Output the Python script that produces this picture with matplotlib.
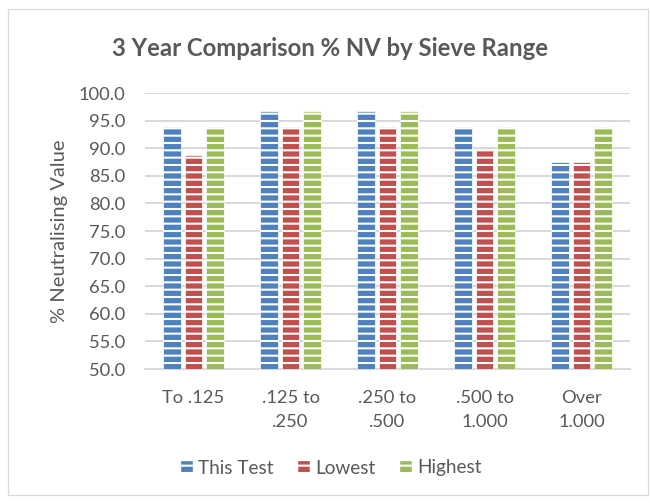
import matplotlib.pyplot as plt
import matplotlib.patches as mpatches
import numpy as np

plt.rcParams['font.family'] = ['Lato', 'DejaVu Sans']
plt.rcParams['hatch.linewidth'] = 1.7

categories = ['To .125', '.125 to\n.250', '.250 to\n.500', '.500 to\n1.000', 'Over\n1.000']
this_test = [93.8, 96.8, 96.8, 93.8, 87.5]
lowest = [88.7, 93.8, 93.8, 89.9, 87.5]
highest = [93.8, 96.8, 96.8, 93.8, 93.8]
series = [('This Test', this_test, '#4F81BD'),
          ('Lowest', lowest, '#C0504D'),
          ('Highest', highest, '#9BBB59')]

dpi = 88
fig = plt.figure(figsize=(650 / dpi, 503 / dpi), dpi=dpi)
ax = fig.add_axes([145 / 650, 1 - 369 / 503, 485 / 650, 276 / 503])

x = np.arange(len(categories))
step = 0.22
width = 0.18
handles = []
for i, (name, vals, col) in enumerate(series):
    ax.bar(x + (i - 1) * step, np.array(vals) - 50, width, bottom=50,
           color=col, edgecolor='white', hatch='--', linewidth=0.6, zorder=3)
    handles.append(mpatches.Patch(facecolor=col, edgecolor='white', hatch='--',
                                  linewidth=0.3, label=name))

ax.set_ylim(50, 100)
ax.set_xlim(-0.5, len(categories) - 0.5)
ax.set_yticks(np.arange(50, 100.1, 5))
ax.set_yticklabels(['%.1f' % v for v in np.arange(50, 100.1, 5)])
ax.set_xticks(x)
ax.set_xticklabels(categories, linespacing=1.6)
ax.tick_params(axis='both', length=0, labelsize=15, labelcolor='#595959')
ax.tick_params(axis='y', pad=16)
ax.tick_params(axis='x', pad=17)
ax.grid(axis='y', color='#D9D9D9', linewidth=1.6, zorder=0)
for s in ['top', 'right', 'left']:
    ax.spines[s].set_visible(False)
ax.spines['bottom'].set_color('#D9D9D9')
ax.spines['bottom'].set_linewidth(1.6)

ax.set_ylabel('% Neutralising Value', fontsize=16.5, color='#595959', labelpad=9)
fig.text(0.508, 1 - 48 / 503, '3 Year Comparison % NV by Sieve Range',
         ha='center', va='center', fontsize=19.5, fontweight='bold', color='#595959')

fig.legend(handles=handles, loc='center', bbox_to_anchor=(0.51, 1 - 468 / 503),
           ncol=3, frameon=False, fontsize=15.5, labelcolor='#595959',
           handlelength=0.6, handleheight=0.6, handletextpad=0.3, columnspacing=1.3)

fig.patches.append(mpatches.Rectangle((8 / 650, 8 / 503), 640 / 650, 486 / 503,
                                      transform=fig.transFigure, fill=False,
                                      edgecolor='#D9D9D9', linewidth=1))

fig.savefig('out.png', dpi=dpi)
